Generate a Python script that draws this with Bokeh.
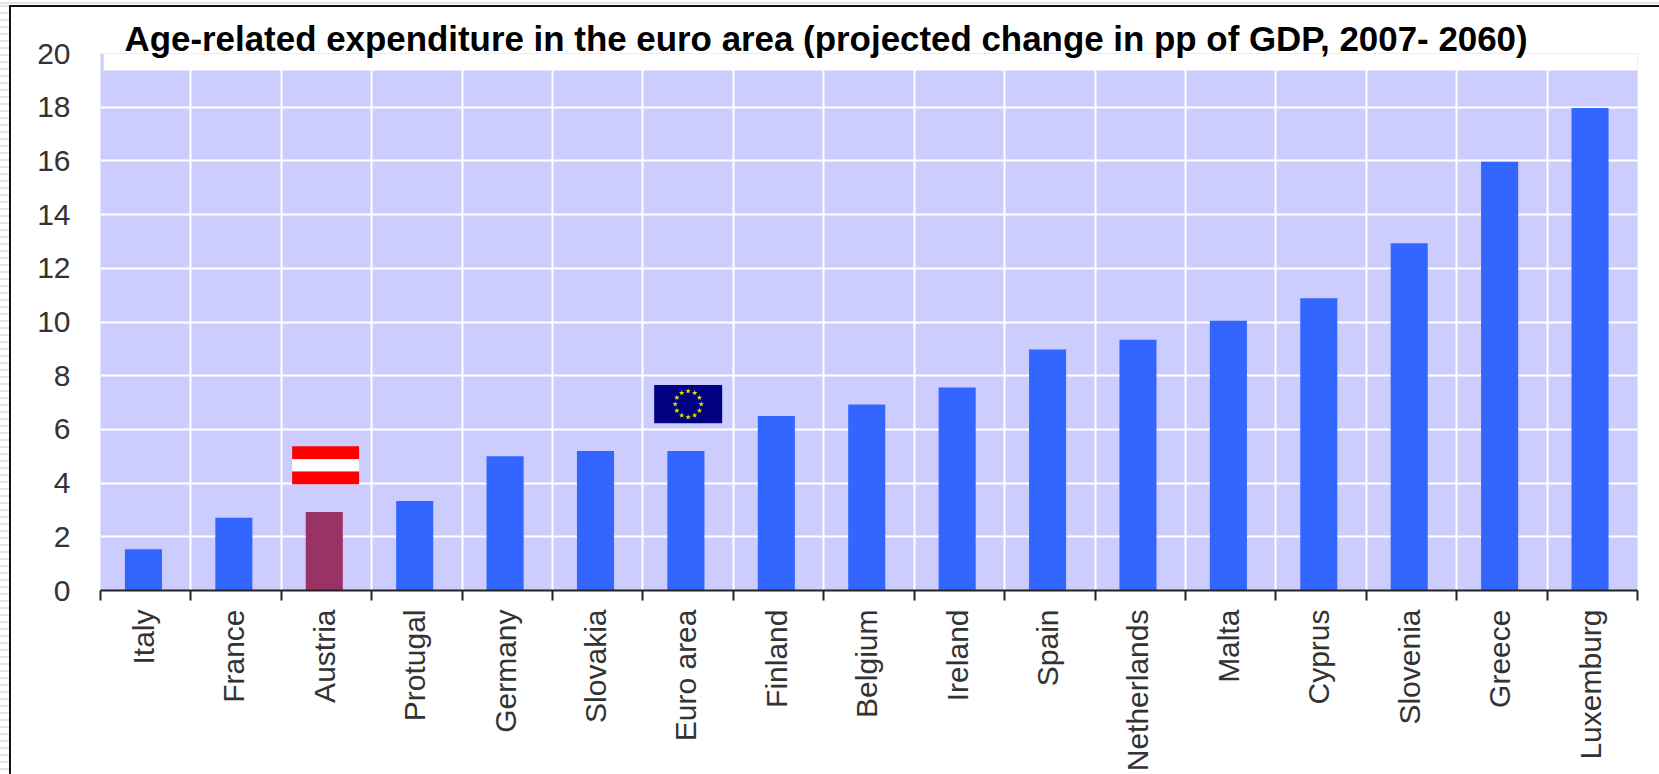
import math
from bokeh.embed import file_html
from bokeh.models import ColumnDataSource, FixedTicker, InlineStyleSheet, Range1d
from bokeh.plotting import figure
from bokeh.resources import INLINE

categories = ["Italy", "France", "Austria", "Protugal", "Germany", "Slovakia", "Euro area", "Finland",
              "Belgium", "Ireland", "Spain", "Netherlands", "Malta", "Cyprus", "Slovenia", "Greece", "Luxemburg"]
values = [1.54, 2.71, 2.92, 3.33, 5.0, 5.2, 5.2, 6.5, 6.93, 7.56, 8.98, 9.34, 10.05, 10.88, 12.93, 15.97, 17.97]
bar_colors = ["#993366" if c == "Austria" else "#3366FF" for c in categories]
y_ticks = list(range(0, 21, 2))
title_text = "Age-related expenditure in the euro area (projected change in pp of GDP, 2007- 2060)"

centres = [i + 0.5 for i in range(len(categories))]
bounds = list(range(len(categories) + 1))
bar_x = [round(c - 0.025, 3) for c in centres]

frame_css = InlineStyleSheet(css="""
:host { position: relative; }
:host::before {
  content: ""; position: absolute; left: 0; top: 0; right: 0; bottom: 0; z-index: 10; pointer-events: none;
  background:
    linear-gradient(#e4e4e4, #e4e4e4) 0 2px / 100% 2px no-repeat,
    repeating-linear-gradient(to bottom, transparent 0 5px, #e4e4e4 5px 7px) 0 0 / 9px 100% no-repeat;
}
:host::after {
  content: ""; position: absolute; left: 9px; top: 5px; right: 0; bottom: 0; z-index: 11; pointer-events: none;
  border-left: 2px solid #111111; border-top: 2px solid #111111;
}
""")

p = figure(width=1659, height=774, output_backend="svg", toolbar_location=None,
           x_range=Range1d(0, 17), y_range=Range1d(0, 20),
           min_border_left=100, min_border_right=22, min_border_top=53, min_border_bottom=184,
           background_fill_color="#CCCCFF", border_fill_color="white", outline_line_color=None,
           stylesheets=[frame_css])

p.title.text = title_text
p.title.text_font = "Liberation Sans"
p.title.text_font_size = "34.9px"
p.title.text_font_style = "bold"
p.title.text_color = "black"
p.title.align = "left"
p.title.offset = 24
p.title.standoff = -9

p.xgrid.ticker = FixedTicker(ticks=bounds)
p.ygrid.ticker = FixedTicker(ticks=y_ticks)
p.xgrid.grid_line_color = "white"
p.ygrid.grid_line_color = "white"
p.xgrid.grid_line_width = 2
p.ygrid.grid_line_width = 2

# white band behind the title
p.quad(left=[0.035], right=[17], bottom=[19.37], top=[20], fill_color="white", line_color=None)

src = ColumnDataSource(dict(x=bar_x, top=values, color=bar_colors))
p.vbar(x="x", top="top", bottom=0, width=0.41, fill_color="color", line_color=None, source=src)

# Austrian flag
p.quad(left=[2.12] * 3, right=[2.86] * 3, bottom=[4.89, 4.43, 3.96], top=[5.37, 4.89, 4.43],
       fill_color=["#FF0000", "white", "#FF0000"], line_color=None)

# EU flag
p.quad(left=[6.124], right=[6.876], bottom=[6.23], top=[7.65], fill_color="#000080", line_color=None)
star_angles = [math.radians(a) for a in range(0, 360, 30)]
p.scatter(x=[6.5 + 0.144 * math.cos(a) for a in star_angles], y=[6.94 + 0.485 * math.sin(a) for a in star_angles],
          marker="star", size=6, fill_color="#E8E000", line_color=None)

xa = p.xaxis[0]
xa.ticker = FixedTicker(ticks=bar_x, minor_ticks=bounds)
xa.major_label_overrides = {c: n for c, n in zip(bar_x, categories)}
xa.major_label_orientation = math.pi / 2
xa.major_tick_line_color = None
xa.major_tick_out = 0
xa.major_tick_in = 0
xa.minor_tick_out = 10
xa.minor_tick_in = 0
xa.minor_tick_line_color = "#222222"
xa.minor_tick_line_width = 2
xa.axis_line_color = "#222222"
xa.axis_line_width = 2
xa.major_label_standoff = 9
xa.major_label_text_font = "Liberation Sans"
xa.major_label_text_font_size = "30px"
xa.major_label_text_color = "#333333"

ya = p.yaxis[0]
ya.ticker = FixedTicker(ticks=y_ticks)
ya.axis_line_color = None
ya.major_tick_line_color = None
ya.minor_tick_line_color = None
ya.major_tick_out = 0
ya.major_tick_in = 0
ya.major_label_standoff = 30
ya.major_label_text_font = "Liberation Sans"
ya.major_label_text_font_size = "30px"
ya.major_label_text_color = "#333333"

open("out.html", "w").write(file_html(p, INLINE))
